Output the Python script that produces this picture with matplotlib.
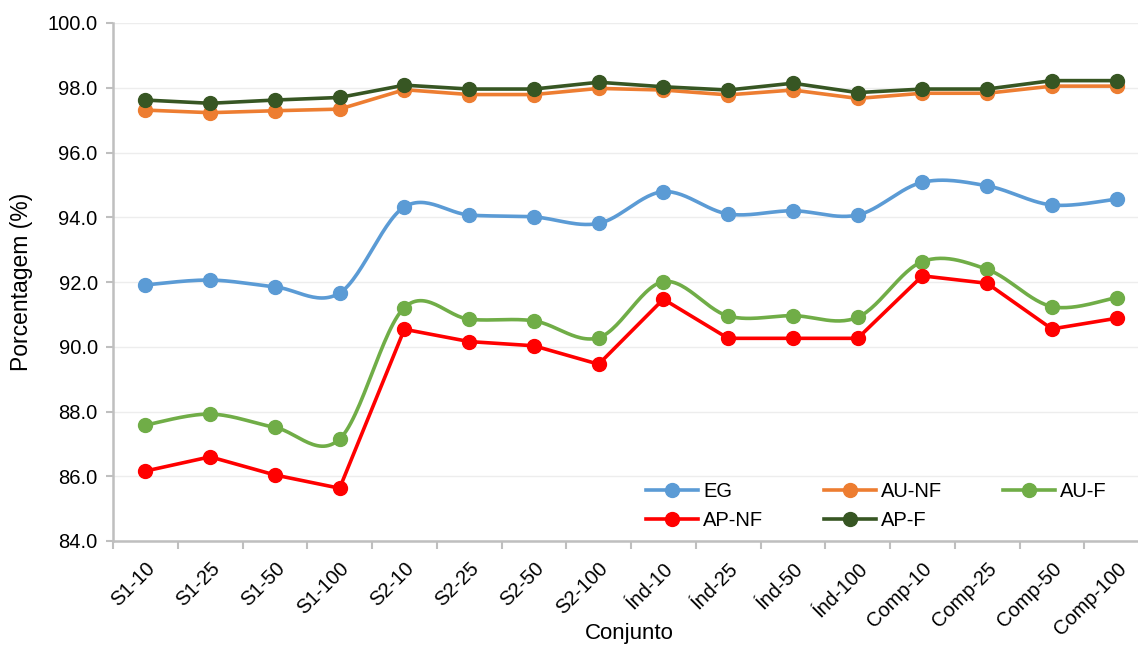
import numpy as np
import matplotlib
matplotlib.use("Agg")
import matplotlib.pyplot as plt
from matplotlib.ticker import FixedLocator, NullFormatter

plt.rcParams['font.family'] = ['Liberation Sans', 'DejaVu Sans']

categories = ["S1-10", "S1-25", "S1-50", "S1-100", "S2-10", "S2-25", "S2-50", "S2-100",
              "Índ-10", "Índ-25", "Índ-50", "Índ-100", "Comp-10", "Comp-25", "Comp-50", "Comp-100"]

eg = [91.91, 92.06, 91.85, 91.66, 94.32, 94.07, 94.01, 93.81,
      94.79, 94.10, 94.20, 94.07, 95.08, 94.97, 94.38, 94.56]
au_nf = [97.31, 97.23, 97.29, 97.34, 97.94, 97.79, 97.79, 97.98,
         97.93, 97.78, 97.93, 97.67, 97.83, 97.83, 98.05, 98.05]
au_f = [87.58, 87.92, 87.51, 87.15, 91.21, 90.85, 90.80, 90.28,
        92.01, 90.95, 90.96, 90.91, 92.63, 92.39, 91.24, 91.52]
ap_nf = [86.16, 86.60, 86.04, 85.63, 90.54, 90.16, 90.03, 89.46,
         91.47, 90.26, 90.26, 90.26, 92.19, 91.96, 90.55, 90.88]
ap_f = [97.62, 97.52, 97.62, 97.70, 98.08, 97.96, 97.96, 98.17,
        98.03, 97.93, 98.14, 97.85, 97.96, 97.96, 98.22, 98.22]

y_ticks = [84.0, 86.0, 88.0, 90.0, 92.0, 94.0, 96.0, 98.0, 100.0]


def smooth_curve(x, y, steps=30):
    """Cubic Bezier path through the points with Catmull-Rom style tangents."""
    x = np.asarray(x, float)
    y = np.asarray(y, float)
    n = len(x)
    xs, ys = [], []
    t = np.linspace(0, 1, steps)
    for i in range(n - 1):
        p0 = np.array([x[i], y[i]])
        p3 = np.array([x[i + 1], y[i + 1]])
        pm = np.array([x[i - 1], y[i - 1]]) if i > 0 else p0
        pp = np.array([x[i + 2], y[i + 2]]) if i + 2 < n else p3
        c1 = p0 + (p3 - pm) / 6.0
        c2 = p3 - (pp - p0) / 6.0
        b = ((1 - t) ** 3)[:, None] * p0 + (3 * (1 - t) ** 2 * t)[:, None] * c1 \
            + (3 * (1 - t) * t ** 2)[:, None] * c2 + (t ** 3)[:, None] * p3
        xs.append(b[:, 0])
        ys.append(b[:, 1])
    return np.concatenate(xs), np.concatenate(ys)


fig = plt.figure(figsize=(11.38, 6.45), dpi=100)
ax = fig.add_axes([113 / 1138, 1 - 541 / 645, 1036 / 1138, 518 / 645])

x = np.arange(len(categories))
series = [
    ("EG", eg, "#5B9BD5", True),
    ("AU-NF", au_nf, "#ED7D31", False),
    ("AU-F", au_f, "#70AD47", True),
    ("AP-NF", ap_nf, "#FF0000", False),
    ("AP-F", ap_f, "#375623", False),
]

lw = 2.6
ms = 10
handles = {}
for name, vals, color, smooth in series:
    if smooth:
        sx, sy = smooth_curve(x, vals)
    else:
        sx, sy = x, np.asarray(vals)
    ax.plot(sx, sy, color=color, lw=lw, solid_capstyle='round', zorder=3)
    ax.plot(x, vals, linestyle='none', marker='o', markersize=ms,
            color=color, zorder=4)
    handles[name], = ax.plot([], [], color=color, lw=lw, marker='o',
                             markersize=ms, label=name)

ax.set_xlim(-0.5, len(categories) - 0.5)
ax.set_ylim(84, 100)
ax.set_yticks(y_ticks)
ax.set_yticklabels([f"{v:.1f}" for v in y_ticks], fontsize=14.5)

ax.set_xticks(x)
ax.set_xticklabels(categories, rotation=45, ha='right', rotation_mode='anchor',
                   fontsize=14.5)
ax.tick_params(axis='x', which='major', length=0, pad=13)
ax.xaxis.set_minor_locator(FixedLocator(np.arange(-0.5, len(categories), 1.0)))
ax.xaxis.set_minor_formatter(NullFormatter())
ax.tick_params(axis='x', which='minor', length=6, width=1.5, color='#BFBFBF')
ax.tick_params(axis='y', length=5, width=1.5, color='#BFBFBF', pad=6)

ax.grid(axis='y', color='#EDEDED', lw=1.0, zorder=0)
ax.set_axisbelow(True)
for side in ('top', 'right'):
    ax.spines[side].set_visible(False)
for side in ('left', 'bottom'):
    ax.spines[side].set_color('#BFBFBF')
    ax.spines[side].set_linewidth(1.8)

ax.set_ylabel("Porcentagem (%)", fontsize=16.5, va='center')
ax.yaxis.set_label_coords(-0.0888, 0.5)
ax.set_xlabel("Conjunto", fontsize=16, va='center')
ax.xaxis.set_label_coords(0.4985, -0.178)

# legend filled row by row: EG, AU-NF, AU-F / AP-NF, AP-F
order = ["EG", "AP-NF", "AU-NF", "AP-F", "AU-F"]
ax.legend([handles[k] for k in order], order, ncol=3, loc='upper left',
          bbox_to_anchor=(646 / 1138, 1 - 482 / 645),
          bbox_transform=fig.transFigure, frameon=False, fontsize=14.5,
          handlelength=2.6, handletextpad=0.25, columnspacing=3.0,
          labelspacing=0.5, borderpad=0, borderaxespad=0)

fig.savefig("out.png", dpi=100)
